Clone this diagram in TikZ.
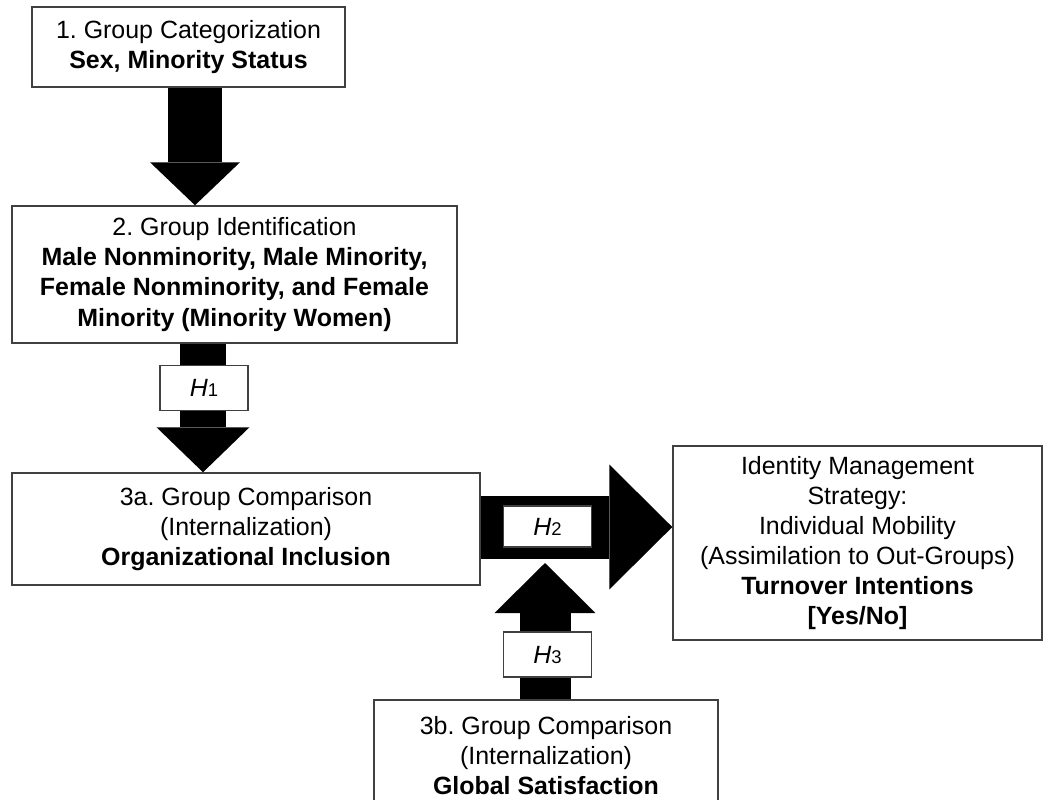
\documentclass[tikz,border=0pt]{standalone}
\usepackage{fontspec}
\setmainfont{Liberation Sans}
\usepackage{tikz}
\usetikzlibrary{positioning,calc,arrows.meta}
\frenchspacing

\newcommand{\hname}[1]{\textit{H}{\fontsize{10.5pt}{12pt}\selectfont #1}}

\begin{document}
\begin{tikzpicture}[x=0.02cm, y=-0.02cm,
    every node/.style={font=\fontsize{14.2pt}{17.1pt}\selectfont},
    box/.style={draw=black!75, line width=0.03cm, fill=white, align=center, inner sep=0pt},
    hbox/.style={draw=black!75, line width=0.03cm, fill=white, inner sep=0pt, minimum width=1.76cm, minimum height=0.9cm},
    bigarrow/.style n args={3}{line width=#1, -{Triangle[width=#2, length=#3, line width=0pt]}}]
    \clip (0,0) rectangle (1044,799);

    % Boxes
    \node[box, minimum width=6.26cm, minimum height=1.6cm] (cat) at (188.5,47)
        {1. Group Categorization\\ \textbf{Sex, Minority Status}};
    \node[box, minimum width=8.9cm, minimum height=2.74cm] (ident) at (234.5,274.5)
        {2. Group Identification\\ \textbf{Male Nonminority, Male Minority,}\\
         \textbf{Female Nonminority, and Female}\\ \textbf{Minority (Minority Women)}};
    \node[box, minimum width=9.36cm, minimum height=2.24cm] (incl) at (246,529)
        {3a. Group Comparison\\ (Internalization)\\ \textbf{Organizational Inclusion}};
    \node[box, minimum width=7.38cm, minimum height=3.88cm] (strat) at (857.5,543)
        {Identity Management\\ Strategy:\\ Individual Mobility\\ (Assimilation to Out-Groups)\\
         \textbf{Turnover Intentions}\\ \textbf{[Yes/No]}};
    \node[box, minimum width=6.88cm, minimum height=2.24cm] (sat) at (546,756)
        {3b. Group Comparison\\ (Internalization)\\ \textbf{Global Satisfaction}};

    % Arrow lines
    \coordinate (col1) at (195,0);
    \coordinate (col2) at (203,0);
    \coordinate (row3) at (0,527);
    \coordinate (col4) at (545,0);
    \coordinate (h3tip) at (545,563);

    \draw[bigarrow={1.08cm}{1.8cm}{0.86cm}] (cat.south -| col1) -- (ident.north -| col1);
    \draw[bigarrow={0.94cm}{1.86cm}{0.9cm}] (ident.south -| col2) -- (incl.north -| col2);
    \draw[bigarrow={1.26cm}{2.5cm}{1.26cm}] (incl.east |- row3) -- (strat.west |- row3);
    \draw[bigarrow={1.02cm}{2.02cm}{1.0cm}] (sat.north -| col4) -- (h3tip);

    % Hypothesis labels
    \node[hbox] (h1) at (204,388) {\hname{1}};
    \node[hbox, minimum height=0.82cm] (h2) at (547.5,526.5) {\hname{2}};
    \node[hbox] (h3) at (547.5,654.5) {\hname{3}};
\end{tikzpicture}
\end{document}
